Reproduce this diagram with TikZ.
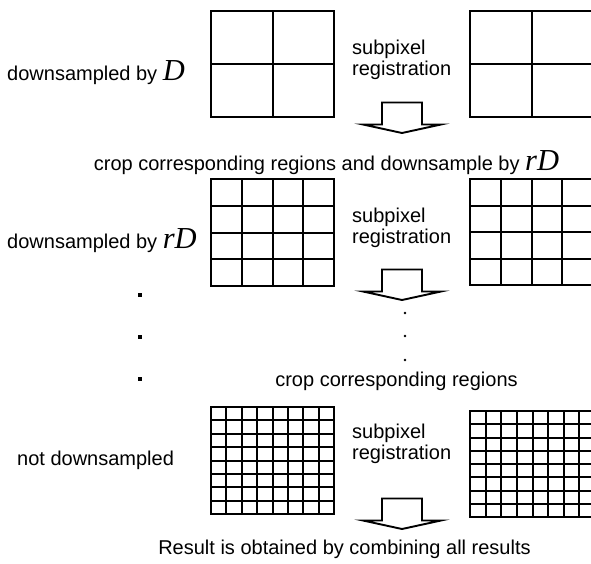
\documentclass[tikz,border=0pt]{standalone}
\usepackage{fontspec}
\setmainfont{Liberation Sans}
\newfontfamily\tmsfont{Liberation Serif}
\newcommand{\mvar}[1]{{\tmsfont\fontsize{30.5}{30}\selectfont\itshape #1}}
\newcommand{\pixgrid}[5]{%
  \draw[gridline] (#1,#2) rectangle (#3,#4);
  \foreach \k in {1,...,#5}{%
    \draw[gridline] ({round(#1+(#3-#1)*\k/#5)},#2) -- ({round(#1+(#3-#1)*\k/#5)},#4);
    \draw[gridline] (#1,{round(#2+(#4-#2)*\k/#5)}) -- (#3,{round(#2+(#4-#2)*\k/#5)});
  }}
\newcommand{\blockarrow}[2]{% center x, top y
  \draw[arrowline] (#1-20,#2) -- (#1+20,#2) -- (#1+20,#2+22) -- (#1+39,#2+22)
    -- (#1,#2+30.5) -- (#1-39,#2+22) -- (#1-20,#2+22) -- cycle;}
\begin{document}
\begin{tikzpicture}[x=1pt,y=-1pt,
  gridline/.style={line width=2pt, line cap=rect},
  arrowline/.style={line width=1.9pt, line join=miter},
  lbl/.style={font=\fontsize{20}{21}\selectfont, inner sep=0pt, anchor=base west},
  clbl/.style={font=\fontsize{20}{21}\selectfont, inner sep=0pt, anchor=base}]
\useasboundingbox (0,0) rectangle (591,563);
\fill[white] (0,0) rectangle (591,563);
\clip (0,0) rectangle (591,563);

% row 1
\node[lbl] (l1) at (7,80.5) {downsampled by \mvar{D}};
\pixgrid{211}{11}{334}{117}{2}
\pixgrid{470}{11}{593}{117}{2}
\node[lbl] (s1) at (352,54) {subpixel};
\node[lbl] (r1) at (352,75) {registration};
\blockarrow{402}{102.5}
\node[clbl] (c1) at (326.5,170) {crop corresponding regions and downsample by \mvar{rD}};

% row 2
\node[lbl] (l2) at (7,248.5) {downsampled by \mvar{rD}};
\pixgrid{211}{179}{334}{286}{4}
\pixgrid{470}{179}{593}{285}{4}
\node[lbl] (s2) at (352,222) {subpixel};
\node[lbl] (r2) at (352,243) {registration};
\blockarrow{402}{269.5}

% dots
\foreach \yy in {295,337,379} \fill (138,\yy-2) rectangle (142,\yy+2);
\foreach \yy in {313,336,360} \fill (405,\yy) circle (1.4);

\node[clbl] (c2) at (396.5,386) {crop corresponding regions};

% row 3
\node[lbl] (l3) at (17,465) {not downsampled};
\pixgrid{211}{407}{334}{514}{8}
\pixgrid{470}{411}{595}{517}{8}
\node[lbl] (s3) at (352,438) {subpixel};
\node[lbl] (r3) at (352,459) {registration};
\blockarrow{402}{498.5}
\node[clbl] (c3) at (344.5,554) {Result is obtained by combining all results};
\end{tikzpicture}
\end{document}
